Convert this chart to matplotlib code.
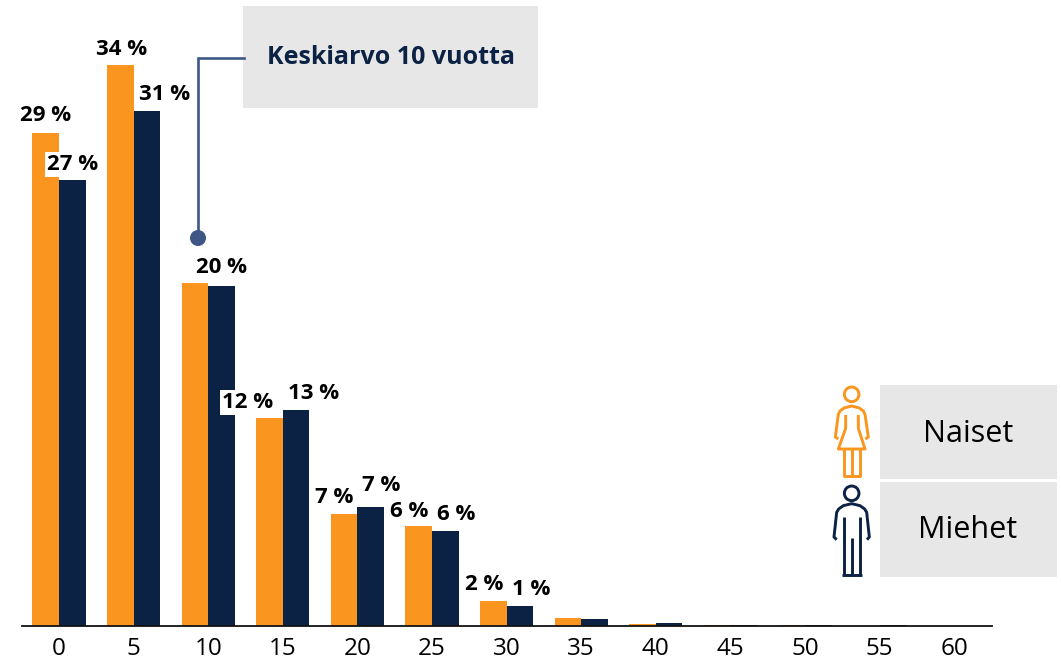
import matplotlib
matplotlib.use('Agg')
import matplotlib.pyplot as plt
import numpy as np
from matplotlib.patches import Rectangle, Circle

# data (%)
years = ['0', '5', '10', '15', '20', '25', '30', '35', '40', '45', '50', '55', '60']
naiset = [29.5, 33.55, 20.5, 12.4, 6.7, 5.95, 1.45, 0.42, 0.1, 0.03, 0.01, 0.0, 0.0]
miehet = [26.65, 30.8, 20.3, 12.9, 7.1, 5.65, 1.15, 0.36, 0.12, 0.05, 0.02, 0.01, 0.0]
labels_naiset = ['29 %', '34 %', '20 %', '12 %', '7 %', '6 %', '2 %']
labels_miehet = ['27 %', '31 %', '', '13 %', '7 %', '6 %', '1 %']

# label offsets from the bar top centre, in pixels (dx, dy up)
offs_naiset = [(0, 17), (1, 16), (27, 16), (-22, 16), (-10, 16), (-10, 15), (-9, 17)]
offs_miehet = [(0, 16), (18, 17), (0, 0), (17, 17), (10, 21), (11, 17), (11, 17)]

W, H = 1061, 661
ORANGE = '#fa9620'
NAVY = '#0c2245'
GREY = '#e7e7e7'
LINE = '#3f5785'
plt.rcParams['font.family'] = ['Open Sans', 'DejaVu Sans']

fig = plt.figure(figsize=(W/100, H/100), dpi=100)

# bar axes, placed in pixels
left, right, top, bottom = 22, 992, 0, 625.5
ax = fig.add_axes([left/W, 1-bottom/H, (right-left)/W, (bottom-top)/H])
x = np.arange(len(years))
bw = 0.357
b1 = ax.bar(x-bw/2, naiset, bw, color=ORANGE)
b2 = ax.bar(x+bw/2, miehet, bw, color=NAVY)
ax.set_xlim(-0.496, 12.506)
ax.set_ylim(0, 37.45)
ax.set_xticks(x, years)
ax.tick_params(axis='x', length=0, pad=8.5, labelsize=17.5)
ax.set_yticks([])
for s in ['top', 'left', 'right']:
    ax.spines[s].set_visible(False)
ax.spines['bottom'].set_linewidth(1.3)
ax.spines['bottom'].set_color('#111111')

def put_labels(bars, labels, offs):
    for bar, lab, (dx, dy) in zip(bars, labels, offs):
        if lab == '':
            continue
        bbox = None
        if lab in ('27 %', '12 %'):
            bbox = dict(facecolor='white', edgecolor='none', pad=1.5)
        ax.annotate(lab, (bar.get_x()+bar.get_width()/2, bar.get_height()),
                    xytext=(dx*0.72, dy*0.72), textcoords='offset points',
                    ha='center', va='center', fontsize=16, fontweight='bold',
                    color='black', bbox=bbox, zorder=5)

put_labels(b1, labels_naiset, offs_naiset)
put_labels(b2, labels_miehet, offs_miehet)

# overlay in pixel coordinates for callout and legend
ov = fig.add_axes([0, 0, 1, 1])
ov.set_xlim(0, W)
ov.set_ylim(H, 0)
ov.axis('off')
ov.patch.set_alpha(0)

ov.add_patch(Rectangle((243, 6), 295, 102, color=GREY, lw=0))
ov.text(391, 58, 'Keskiarvo 10 vuotta', ha='center', va='center', fontsize=18,
        fontweight='bold', color=NAVY)
ov.plot([244, 198, 198], [58, 58, 238], color=LINE, lw=1.9, solid_joinstyle='miter')
ov.add_patch(Circle((198, 238), 8, color=LINE, lw=0))

ov.add_patch(Rectangle((880, 385), 177, 94, color=GREY, lw=0))
ov.add_patch(Rectangle((880, 481.5), 177, 95.5, color=GREY, lw=0))
ov.text(968, 434, 'Naiset', ha='center', va='center', fontsize=22, color='black')
ov.text(968, 530, 'Miehet', ha='center', va='center', fontsize=22, color='black')

def icon_line(pts, col):
    pts = np.array(pts, dtype=float)
    ov.plot(820+pts[:, 0]/3, 375+pts[:, 1]/3, color=col, lw=2.1,
            solid_capstyle='butt', solid_joinstyle='round')

# woman icon (points in 3x crop units)
ov.add_patch(Circle((820+95/3, 375+58/3), 7.3, fill=False, ec=ORANGE, lw=2.1))
icon_line([(55, 192), (46, 186), (55, 118), (60, 108), (72, 99), (95, 93), (118, 99), (130, 108), (135, 118), (145, 186), (136, 192)], ORANGE)
icon_line([(77, 120), (77, 160), (55, 222), (135, 222), (115, 160), (115, 120)], ORANGE)
icon_line([(72, 222), (72, 302), (120, 302), (120, 222)], ORANGE)
icon_line([(95, 222), (95, 302)], ORANGE)

# man icon
ov.add_patch(Circle((820+95/3, 375+355/3), 7.3, fill=False, ec=NAVY, lw=2.1))
icon_line([(50, 494), (42, 486), (50, 412), (56, 402), (70, 392), (95, 386), (120, 392), (134, 402), (140, 412), (148, 486), (141, 494)], NAVY)
icon_line([(72, 425), (72, 600)], NAVY)
icon_line([(120, 425), (120, 600)], NAVY)
icon_line([(67, 600), (125, 600)], NAVY)
icon_line([(95, 490), (95, 600)], NAVY)

fig.savefig('out.png', dpi=100)
